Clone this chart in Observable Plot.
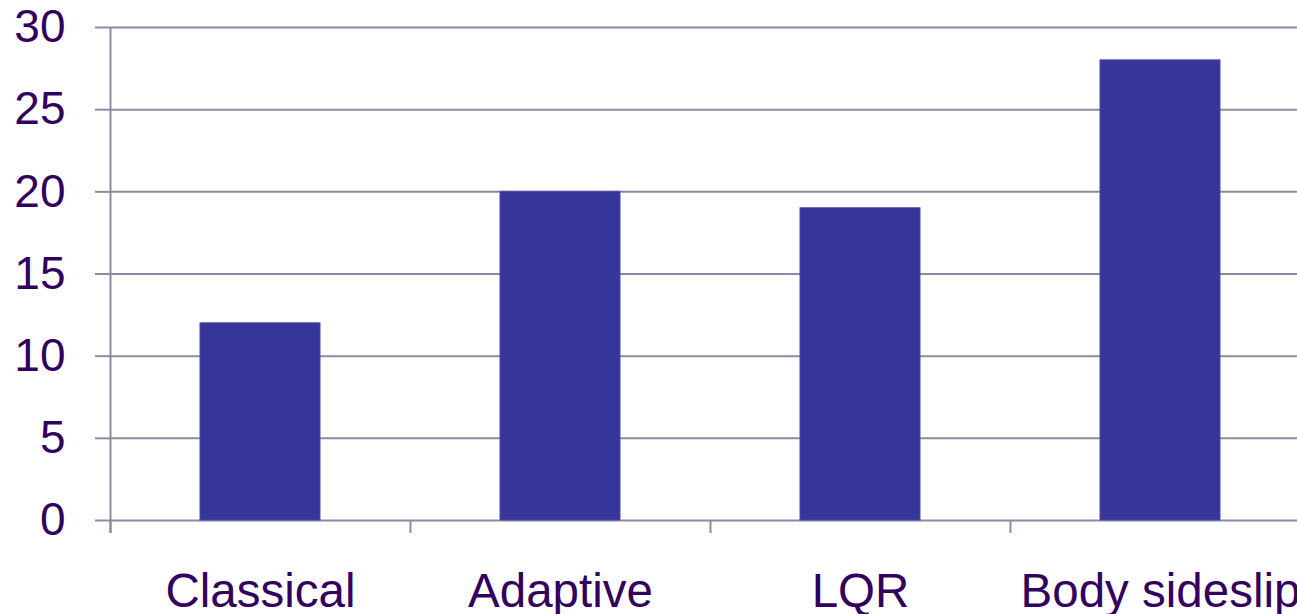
<!DOCTYPE html>
<html>
<head>
<meta charset="utf-8">
<script src="https://cdn.jsdelivr.net/npm/d3@7"></script>
<script src="https://cdn.jsdelivr.net/npm/@observablehq/plot@0.6"></script>
<style>
  html, body { margin: 0; padding: 0; background: #fff; overflow: hidden; }
  #chart svg { display: block; overflow: hidden; }
</style>
</head>
<body>
<div id="chart"></div>
<script>
const categories = ["Classical", "Adaptive", "LQR", "Body sideslip"];
const values = [12, 20, 19, 28];
const yTicks = [0, 5, 10, 15, 20, 25, 30];

const data = categories.map((c, i) => ({category: c, value: values[i]}));

const gridColor = "#8e8aa2";
const textColor = "#32005e";

const chart = Plot.plot({
  width: 1297,
  height: 614,
  marginLeft: 110,
  marginRight: -13,
  marginTop: 27,
  marginBottom: 94,
  style: {fontFamily: "'Liberation Sans', Arial, sans-serif", background: "#fff"},
  x: {domain: categories, paddingInner: 0.6, paddingOuter: 0.3, axis: null, label: null},
  y: {domain: [0, 30], axis: null, label: null},
  marks: [
    Plot.gridY(yTicks, {stroke: gridColor, strokeOpacity: 1, strokeWidth: 2}),
    Plot.axisY(yTicks, {
      tickSize: 15, tickPadding: 30, stroke: gridColor, strokeWidth: 2,
      fontSize: 46, fill: textColor, tickFormat: d => String(d), label: null
    }),
    Plot.barY(data, {x: "category", y: "value", fill: "#35359a", stroke: "#4d4dac", strokeWidth: 1}),
    // left axis line extending below baseline
    Plot.ruleX([categories[0]], {x: d => d, dx: -150, stroke: gridColor, strokeWidth: 2, insetBottom: -13}),
    // boundary tick marks below baseline
    Plot.ruleX(categories, {x: d => d, dx: -150, y1: 0, y2: 0, insetBottom: -13, stroke: gridColor, strokeWidth: 2}),
    Plot.axisX({tickSize: 0, tickPadding: 53, fontSize: 47.5, fill: textColor, stroke: null, label: null})
  ]
});

document.getElementById("chart").appendChild(chart);
</script>
</body>
</html>
